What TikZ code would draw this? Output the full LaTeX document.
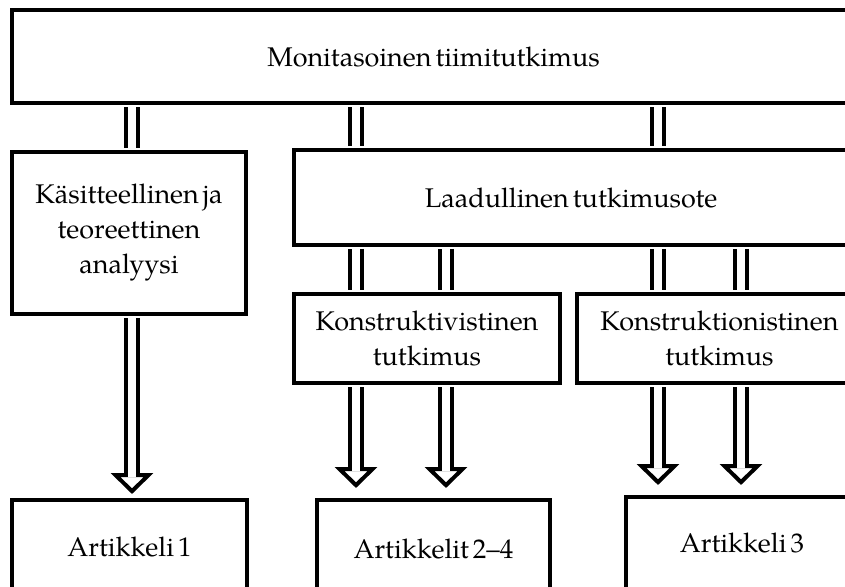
\documentclass[tikz,border=0pt]{standalone}
\usepackage{fontspec}
\setmainfont[WordSpace=0.6]{TeX Gyre Pagella}
\usetikzlibrary{arrows.meta}
\usetikzlibrary{positioning}
\tikzset{>={Triangle[open,color=black,length=10.5pt,width=21pt]}}
\tikzset{box/.style={draw, line width=2pt, rectangle, align=center, inner sep=0pt,
    font=\fontsize{13.5}{17.5}\selectfont}}
\tikzset{link/.style={draw, double, line width=2pt, double distance=4.4pt,
    shorten <=1pt, shorten >=1pt}}
\tikzset{arrowlink/.style={draw=white, line width=2pt, ->, shorten <=1pt, shorten >=#1,
    postaction={draw=black, double=white, double distance=4.4pt, -, shorten >=#1+8.5pt}}}

\begin{document}
\begin{tikzpicture}[x=0.5pt,y=-0.5pt]
    \useasboundingbox (0,0) rectangle (845,587);
    \clip (0,0) rectangle (845,587);
    \node [box, minimum width=421.5pt, minimum height=46.5pt] (top) at (433.5,57) {Monitasoinen tiimitutkimus};
    \node [box, minimum width=117pt, minimum height=81pt] (kas) at (129,233) {Käsitteellinen ja\\teoreettinen\\analyysi};
    \node [box, minimum width=277pt, minimum height=47.5pt] (laad) at (571,197.5) {Laadullinen tutkimusote};
    \node [box, minimum width=133pt, minimum height=44.5pt] (konv) at (427,338.5) {Konstruktivistinen\\tutkimus};
    \node [box, minimum width=142.5pt, minimum height=44.5pt] (koni) at (719.5,338.5) {Konstruktionistinen\\tutkimus};
    \node [box, minimum width=117.5pt, minimum height=47pt] (art1) at (129.5,547) {Artikkeli 1};
    \node [box, minimum width=116.5pt, minimum height=49pt] (art24) at (433.5,549) {Artikkelit 2--4};
    \node [box, minimum width=116pt, minimum height=46pt] (art3) at (742,543) {Artikkeli 3};

    % x positions of the double lines
    \coordinate (xa) at (132,0);
    \coordinate (xb) at (356,0);
    \coordinate (xc) at (446,0);
    \coordinate (xd) at (658,0);
    \coordinate (xe) at (741,0);

    \draw [link] (top.south -| xa) -- (kas.north -| xa);
    \draw [link] (top.south -| xb) -- (laad.north -| xb);
    \draw [link] (top.south -| xd) -- (laad.north -| xd);
    \draw [link] (laad.south -| xb) -- (konv.north -| xb);
    \draw [link] (laad.south -| xc) -- (konv.north -| xc);
    \draw [link] (laad.south -| xd) -- (koni.north -| xd);
    \draw [link] (laad.south -| xe) -- (koni.north -| xe);

    \draw [arrowlink=2pt] (kas.south -| xa) -- (art1.north -| xa);
    \draw [arrowlink=5pt] (konv.south -| xb) -- (art24.north -| xb);
    \draw [arrowlink=5pt] (konv.south -| xc) -- (art24.north -| xc);
    \draw [arrowlink=5pt] (koni.south -| xd) -- (art3.north -| xd);
    \draw [arrowlink=5pt] (koni.south -| xe) -- (art3.north -| xe);
\end{tikzpicture}
\end{document}
